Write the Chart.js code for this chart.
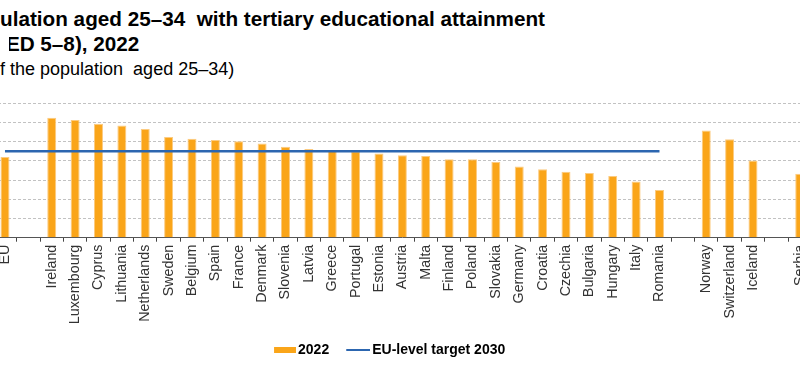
<!DOCTYPE html>
<html>
<head>
<meta charset="utf-8">
<script src="https://cdn.jsdelivr.net/npm/chart.js@4.4.1/dist/chart.umd.min.js"></script>
<style>
  html, body { margin: 0; padding: 0; background: #fff; overflow: hidden; width: 800px; height: 377px; }
  .t { position: absolute; white-space: pre; font-family: "Liberation Sans", Arial, sans-serif; color: #000; line-height: 1; }
  .t1 { font-weight: bold; font-size: 20.7px; }
  .t2 { font-size: 18px; }
  .clip { position: absolute; left: 9px; top: 30px; width: 600px; height: 30px; overflow: hidden; }
  #wrap { position: absolute; left: -42px; top: 0; width: 862px; height: 377px; }
</style>
</head>
<body>
<div class="t t1" style="left:-39px; top:9.3px;">Population aged 25–34  with tertiary educational attainment</div>
<div class="clip"><div class="t t1" style="left:-44.5px; top:4.3px;">(ISCED 5–8), 2022</div></div>
<div class="t t2" style="left:-37px; top:59.8px;">(% of the population  aged 25–34)</div>
<div id="wrap"><canvas id="c" width="862" height="377"></canvas></div>
<script>
const categories = ["EU", "", "Ireland", "Luxembourg", "Cyprus", "Lithuania", "Netherlands", "Sweden", "Belgium", "Spain", "France", "Denmark", "Slovenia", "Latvia", "Greece", "Portugal", "Estonia", "Austria", "Malta", "Finland", "Poland", "Slovakia", "Germany", "Croatia", "Czechia", "Bulgaria", "Hungary", "Italy", "Romania", "", "Norway", "Switzerland", "Iceland", "", "Serbia"];
const values2022 = [42.0, null, 62.5, 61.3, 59.4, 58.5, 56.6, 52.4, 51.6, 50.9, 50.2, 49.0, 47.4, 46.2, 45.3, 45.0, 43.9, 43.0, 42.5, 40.8, 40.8, 39.4, 37.1, 35.7, 34.3, 33.7, 32.1, 29.3, 24.8, null, 55.8, 51.3, 40.2, null, 33.3];
const target2030 = [45, 45, 45, 45, 45, 45, 45, 45, 45, 45, 45, 45, 45, 45, 45, 45, 45, 45, 45, 45, 45, 45, 45, 45, 45, 45, 45, 45, 45, null, null, null, null, null, null];
const yTicks = [0, 10, 20, 30, 40, 50, 60, 70];
const seriesNames = ["2022", "EU-level target 2030"];

const ORANGE = "#FAA519";
const BLUE = "#2C66B0";
const FONT = '"Liberation Sans", Arial, sans-serif';

function swatch(w, h, draw) {
  const c = document.createElement("canvas");
  c.width = w; c.height = h;
  draw(c.getContext("2d"));
  return c;
}
// swatches carry transparent left margins so they sit next to their text
const barSwatch = swatch(36, 6, g => { g.fillStyle = ORANGE; g.fillRect(14, 0, 22, 6); });
const lineSwatch = swatch(36, 6, g => { g.fillStyle = BLUE; g.fillRect(12, 2, 24, 2); });

new Chart(document.getElementById("c"), {
  data: {
    labels: categories,
    datasets: [
      {
        type: "line",
        label: seriesNames[1],
        data: target2030,
        borderColor: BLUE,
        borderWidth: 2.5,
        pointRadius: 0,
        fill: false,
        spanGaps: false,
        order: 0
      },
      {
        type: "bar",
        label: seriesNames[0],
        data: values2022,
        backgroundColor: ORANGE,
        borderColor: "#FCCB80",
        borderWidth: 1,
        barPercentage: 0.385,
        categoryPercentage: 1,
        order: 1
      }
    ]
  },
  options: {
    responsive: false,
    animation: false,
    layout: { padding: { top: 103.3, right: 7.7, bottom: 10, left: 0 } },
    plugins: {
      title: { display: false },
      tooltip: { enabled: false },
      legend: {
        display: true,
        position: "bottom",
        labels: {
          usePointStyle: true,
          pointStyleWidth: 26,
          padding: 10,
          color: "#000",
          font: { family: FONT, size: 14, weight: "bold" },
          generateLabels: () => [
            { text: seriesNames[0], pointStyle: barSwatch, fillStyle: ORANGE, strokeStyle: ORANGE, lineWidth: 0, datasetIndex: 1 },
            { text: seriesNames[1], pointStyle: lineSwatch, fillStyle: BLUE, strokeStyle: BLUE, lineWidth: 0, datasetIndex: 0 }
          ]
        }
      }
    },
    scales: {
      x: {
        type: "category",
        offset: true,
        grid: { display: true, drawOnChartArea: false, drawTicks: true, tickLength: 4, color: "#444", offset: true },
        border: { display: true, color: "#555", width: 1 },
        ticks: {
          autoSkip: false, maxRotation: 90, minRotation: 90, padding: 3,
          color: "#333", font: { family: FONT, size: 14.3 }
        },
        afterFit: s => { s.height = 95.3; }
      },
      y: {
        min: 0, max: 70,
        afterBuildTicks: s => { s.ticks = yTicks.map(v => ({ value: v })); },
        grid: { color: "#c2c2c2", drawTicks: false, lineWidth: 1 },
        border: { display: false, dash: [3, 2] },
        ticks: { autoSkip: false, color: "#333", font: { family: FONT, size: 14 }, padding: 4 },
        afterFit: s => { s.width = 35.3; }
      }
    }
  }
});
</script>
</body>
</html>
